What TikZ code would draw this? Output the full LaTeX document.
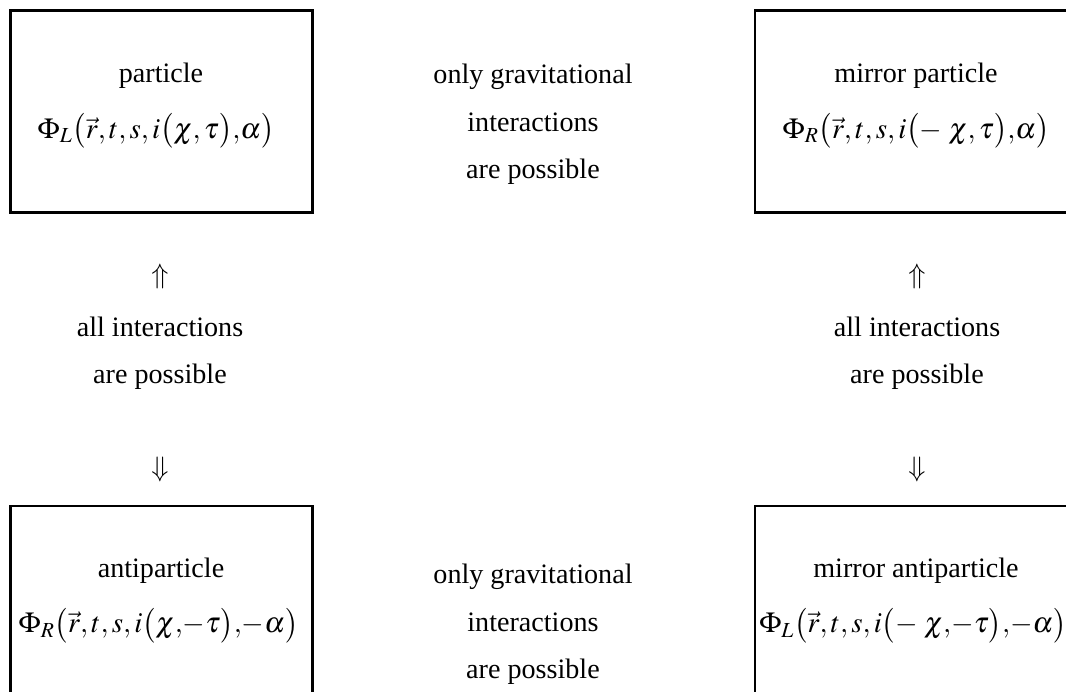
\documentclass[tikz,border=0pt]{standalone}
\usepackage{mathptmx}
\usepackage{fontspec}
\setmainfont{Liberation Serif}
\tikzset{
    box_state/.style={
        rectangle, draw=black, line width=1.3pt,
        minimum width=6.04cm, minimum height=4.04cm, inner sep=0pt
    },
    lbl_text/.style={
        font=\fontsize{16}{27}\selectfont, anchor=base, inner sep=0pt
    },
    eq_text/.style={
        font=\fontsize{16.5}{27}\selectfont, anchor=base, inner sep=0pt
    },
    note_text/.style={
        font=\fontsize{16}{27}\selectfont, align=center, inner sep=0pt
    }
}

\begin{document}
\begin{tikzpicture}

    \useasboundingbox (0,0) rectangle (21.32,-13.84);
    \clip (0,0) rectangle (21.32,-13.84);

    \node[box_state] (boxPart) at (3.23, -2.23) {};
    \node[box_state, minimum width=6.44cm] (boxMirror) at (18.32, -2.23) {};
    \node[box_state] (boxAnti) at (3.23, -12.14) {};
    \node[box_state, minimum width=6.44cm] (boxMirrorAnti) at (18.32, -12.14) {};

    \node[lbl_text] (lblPart) at (3.22, -1.66) {particle};
    \node[eq_text] (eqPart) at (3.12, -2.77) {$\Phi_L\bigl(\vec r, t, s, i\bigl(\chi, \tau\bigr){,}\alpha\bigr)$};
    \node[lbl_text] (lblMirror) at (18.32, -1.66) {mirror particle};
    \node[eq_text] (eqMirror) at (18.32, -2.77) {$\Phi_R\bigl(\vec r, t, s, i\bigl(-\;\chi, \tau\bigr){,}\alpha\bigr)$};
    \node[lbl_text] (lblAnti) at (3.22, -11.56) {antiparticle};
    \node[eq_text] (eqAnti) at (3.17, -12.66) {$\Phi_R\bigl(\vec r, t, s, i\bigl(\chi{,}{-}\tau\bigr){,}{-}\alpha\bigr)$};
    \node[lbl_text] (lblMirrorAnti) at (18.32, -11.56) {mirror antiparticle};
    \node[eq_text] (eqMirrorAnti) at (18.26, -12.66) {$\Phi_L\bigl(\vec r, t, s, i\bigl(-\;\chi{,}{-}\tau\bigr){,}{-}\alpha\bigr)$};

    \node[note_text] (gravTop) at (10.66, -2.49) {only gravitational\\interactions\\are possible};
    \node[note_text] (gravBottom) at (10.66, -12.49) {only gravitational\\interactions\\are possible};

    \node[note_text] (upLeft) at (3.2, -5.52) {$\Uparrow$};
    \node[note_text] (allLeft) at (3.2, -7.06) {all interactions\\are possible};
    \node[note_text] (downLeft) at (3.2, -9.38) {$\Downarrow$};
    \node[note_text] (upRight) at (18.34, -5.52) {$\Uparrow$};
    \node[note_text] (allRight) at (18.34, -7.06) {all interactions\\are possible};
    \node[note_text] (downRight) at (18.34, -9.38) {$\Downarrow$};

\end{tikzpicture}
\end{document}
